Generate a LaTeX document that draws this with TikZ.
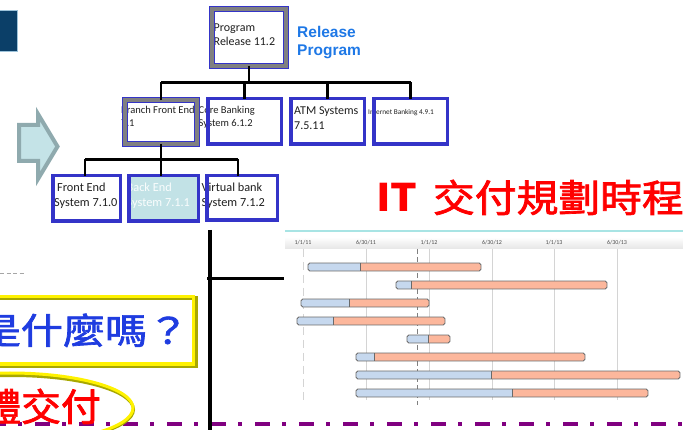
\documentclass[tikz,border=0pt]{standalone}
\usepackage{fontspec}
\setmainfont{Carlito}
\newfontfamily\arialf{Liberation Sans}
\newfontfamily\cjk{Noto Sans CJK TC}[FakeBold=1.8]
\newfontfamily\cjkb{Noto Sans CJK TC}
\usetikzlibrary{shapes.geometric}
\definecolor{boxblue}{HTML}{3434C8}
\definecolor{bandgray}{HTML}{808080}
\definecolor{backcyan}{HTML}{C2E2E6}
\definecolor{arrowfill}{HTML}{C4E3E7}
\definecolor{arrowline}{HTML}{8FAAAE}
\definecolor{darkblue}{HTML}{0B3F68}
\definecolor{darkblueedge}{HTML}{9DC3DA}
\definecolor{relblue}{HTML}{1E78E6}
\definecolor{qblue}{HTML}{1F3CE0}
\definecolor{olive}{HTML}{A8A800}
\definecolor{purp}{HTML}{800080}
\definecolor{barblue}{HTML}{C6D8EE}
\definecolor{barsalmon}{HTML}{FCB79C}
\definecolor{barline}{HTML}{6A6A6A}
\definecolor{gridgray}{HTML}{D4D4D4}
\definecolor{chartcyan}{HTML}{A8E4E4}
\tikzset{
  plainbox/.style={draw=boxblue, line width=3.5pt, inner sep=0pt, outer sep=0pt},
  dblbox/.style={draw=boxblue, double=bandgray, line width=1.3pt, double distance=3.7pt, inner sep=0pt, outer sep=0pt},
  btext/.style={inner sep=0pt, anchor=north west, align=left, text=black!88},
  conn/.style={line width=2.5pt, black},
  glabel/.style={inner sep=0pt, font=\fontsize{6}{6}\selectfont, text=black!70},
}
\begin{document}
\begin{tikzpicture}[x=1pt,y=-1pt]
\useasboundingbox (0,0) rectangle (683,430);
\clip (0,0) rectangle (683,430);

% top-left dark block
\draw[line width=0.8pt, draw=darkblueedge, fill=darkblue] (-2,10) rectangle (17,51);

% block arrow
\draw[line width=4pt, draw=arrowline, fill=arrowfill, line join=miter]
  (19,125) -- (38,125) -- (38,114) -- (57.5,146.5) -- (38,179) -- (38,161) -- (19,161) -- cycle;

% short dashed gray line
\draw[gray!70, line width=0.8pt, dash pattern=on 4pt off 2.5pt] (0,273) -- (25,273);

% ---------------- Gantt chart ----------------
\draw[chartcyan, line width=2pt] (285,231) -- (683,231);
\shade[top color=white, bottom color=black!10] (285,237) rectangle (683,249);
\draw[gridgray, line width=0.9pt, dash pattern=on 8pt off 5pt] (303,249) -- (303,400);
\foreach \gx in {366,429,492,554,617}
  \draw[gridgray, line width=0.9pt] (\gx,249) -- (\gx,400);
\draw[black!50, line width=0.8pt, dash pattern=on 5pt off 3pt] (417,249) -- (417,405);
\node[glabel] (g1) at (303,243) {1/1/11};
\node[glabel] (g2) at (366,243) {6/30/11};
\node[glabel] (g3) at (429,243) {1/1/12};
\node[glabel] (g4) at (492,243) {6/30/12};
\node[glabel] (g5) at (554,243) {1/1/13};
\node[glabel] (g6) at (617,243) {6/30/13};
\foreach \ya/\xs/\xm/\xe in {263/308/360/481, 281/396/411/607, 299/301/349/429, 317/297/333/445, 335/407/428/450, 353/356/374/585, 371/356/491/680, 389/356/512/648}{
  \begin{scope}
    \clip[rounded corners=1.8pt] (\xs,\ya) rectangle (\xe,\ya+8);
    \fill[barsalmon] (\xs,\ya) rectangle (\xe,\ya+8);
    \fill[barblue] (\xs,\ya) rectangle (\xm,\ya+8);
  \end{scope}
  \draw[barline, line width=0.9pt] (\xm,\ya) -- (\xm,\ya+8);
  \draw[barline, line width=0.9pt, rounded corners=1.8pt] (\xs,\ya) rectangle (\xe,\ya+8);
}

% purple dash-dot line
\draw[purp, line width=4pt, dash pattern=on 15pt off 12pt on 4pt off 13pt] (-9,424) -- (700,424);

% black lines
\coordinate (vtop) at (210,230);
\coordinate (vbot) at (210,432);
\coordinate (hl) at (207,279);
\coordinate (hr) at (284,279);
\draw[line width=4.5pt] (vtop) -- (vbot);
\draw[line width=3pt] (hl) -- (hr);

% ---------------- org chart ----------------
\fill[backcyan] (128.75,176) rectangle (198.25,221);

\node[btext, font=\fontsize{12}{14}\selectfont] (tprog) at (213.5,24) {Program\\Release 11.2};
\node[btext, font=\fontsize{10.5}{13}\selectfont] (tbranch) at (121,106.5) {Branch Front End\\7.1};
\node[btext, font=\fontsize{10.5}{13}\selectfont] (tcore) at (198.5,106.5) {Core Banking\\System 6.1.2};
\node[btext, font=\fontsize{12}{15}\selectfont] (tatm) at (294,107) {ATM Systems\\7.5.11};
\node[inner sep=0pt, anchor=west, text=black!88, font=\fontsize{7.3}{8}\selectfont] (tint) at (368,113) {Internet Banking 4.9.1};
\node[btext, font=\fontsize{12.3}{15}\selectfont] (tfront) at (54,182.5) {\hspace{3pt}Front End\\System 7.1.0};
\node[btext, text=white!92!backcyan, font=\fontsize{12.3}{15}\selectfont] (tback) at (126.5,182.5) {Back End\\System 7.1.1};
\node[btext, font=\fontsize{12.3}{15}\selectfont] (tvirt) at (201.5,182.5) {Virtual bank\\System 7.1.2};

\node[dblbox, minimum width=73.6pt, minimum height=56.6pt] (prog) at (249,37.5) {};
\node[dblbox, minimum width=71.7pt, minimum height=43.7pt] (branch) at (161,122) {};
\node[plainbox, minimum width=73.5pt, minimum height=45.5pt] (core) at (244.5,121.5) {};
\node[plainbox, minimum width=73.5pt, minimum height=45.5pt] (atm) at (327.5,121.5) {};
\node[plainbox, minimum width=73.5pt, minimum height=45.5pt] (inet) at (410.5,121.5) {};
\node[plainbox, minimum width=67.5pt, minimum height=45.5pt] (front) at (86.5,198.5) {};
\node[plainbox, minimum width=69.5pt, minimum height=45.5pt] (back) at (163.5,198.5) {};
\node[plainbox, minimum width=70.5pt, minimum height=44.5pt] (virt) at (242,198) {};

\coordinate (bus1) at (0,82.5);
\coordinate (bus2) at (0,159.5);
\draw[conn] (prog.south) -- (prog.south |- bus1);
\draw[conn] (branch.north |- bus1) -- (inet.north |- bus1);
\draw[conn] (branch.north) -- (branch.north |- bus1);
\draw[conn] (core.north) -- (core.north |- bus1);
\draw[conn] (atm.north) -- (atm.north |- bus1);
\draw[conn] (inet.north) -- (inet.north |- bus1);
\draw[conn] (branch.south) -- ([xshift=-2.5pt]back.north);
\draw[conn] ([xshift=-1.5pt]front.north |- bus2) -- ([xshift=-4pt]virt.north |- bus2);
\draw[conn] ([xshift=-1.5pt]front.north) -- ([xshift=-1.5pt]front.north |- bus2);
\draw[conn] ([xshift=-4pt]virt.north) -- ([xshift=-4pt]virt.north |- bus2);

% Release Program label
\node[inner sep=0pt, anchor=north west, align=left, text=relblue, font=\arialf\bfseries\fontsize{15.5}{17.5}\selectfont] (relprog) at (297,26.5) {Release\\Program};

% Title
\node[anchor=base west, inner sep=0pt, text=red, font=\cjk\fontsize{38}{38}\selectfont] (title) at (376,212) {\scalebox{1.1}[1]{{\cjkb\bfseries IT}\hspace{14pt}交付規劃時程}};

% Yellow box with question
\draw[olive, line width=3.5pt] (-5,298) rectangle (196,366);
\draw[yellow, line width=3.5pt] (-7,296.5) rectangle (193.5,364);
\node[anchor=base west, inner sep=0pt, text=qblue, font=\cjk\fontsize{36}{36}\selectfont] (quest) at (-21.5,344) {\scalebox{1.17}[1]{是什麼嗎？}};

% Yellow ellipse with red text
\draw[olive, line width=3pt] (11.5,409.5) ellipse [x radius=122pt, y radius=34pt];
\draw[yellow, line width=3pt] (10,408) ellipse [x radius=123pt, y radius=35pt];
\node[anchor=base west, inner sep=0pt, text=red, font=\cjk\fontsize{38}{38}\selectfont] (deliver) at (-19,421) {\scalebox{1.05}[1]{體交付}};
\end{tikzpicture}
\end{document}
